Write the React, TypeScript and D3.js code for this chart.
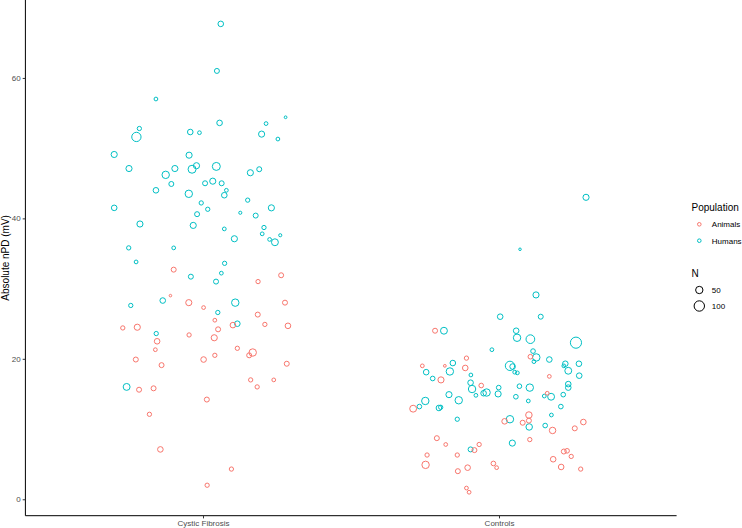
import React, { useEffect, useRef } from "react";
import * as d3 from "d3";

// [jitter offset (category units), absolute nPD (mV), N]
const categories = ["Cystic Fibrosis", "Controls"];
const populations = ["Animals", "Humans"];
const sizeBreaks = [50, 100];
const yTicks = [0, 20, 40, 60];

const cfHumans = [
  [0.06, 67.7, 29], [0.047, 61.0, 23], [-0.159, 57.0, 13], [0.279, 54.4, 7],
  [0.213, 53.5, 13], [0.056, 53.6, 29], [-0.215, 52.8, 17], [-0.043, 52.3, 29],
  [-0.012, 52.2, 13], [-0.225, 51.6, 80], [0.198, 52.0, 35], [0.253, 51.3, 13],
  [-0.3, 49.1, 35], [-0.047, 49.0, 35], [-0.25, 47.1, 35], [-0.126, 46.2, 51],
  [-0.095, 47.1, 35], [-0.037, 47.0, 59], [-0.022, 47.5, 35], [0.045, 47.4, 59],
  [0.16, 46.5, 35], [0.19, 47.0, 23], [-0.107, 44.9, 23], [0.007, 45.0, 23],
  [0.033, 45.3, 35], [0.063, 45.0, 23], [-0.159, 44.0, 29], [0.079, 44.0, 13],
  [0.072, 43.3, 29], [-0.048, 43.5, 51], [-0.006, 42.2, 17], [0.016, 41.3, 17],
  [0.151, 42.6, 17], [-0.3, 41.5, 29], [-0.02, 40.6, 23], [0.126, 40.8, 9],
  [0.178, 40.4, 23], [0.231, 41.5, 35], [-0.213, 39.2, 35], [-0.033, 39.0, 35],
  [0.072, 38.5, 13], [0.206, 38.7, 17], [0.2, 37.8, 13], [0.106, 37.1, 35],
  [0.225, 37.0, 13], [0.261, 37.6, 9], [0.243, 36.6, 44], [-0.251, 35.8, 17],
  [-0.099, 35.8, 13], [-0.226, 33.8, 13], [0.073, 33.6, 17], [0.062, 32.2, 13],
  [-0.041, 31.7, 23], [0.044, 31.0, 23], [-0.244, 27.6, 17], [-0.136, 28.3, 29],
  [0.109, 28.0, 51], [0.05, 26.6, 17], [0.116, 25.0, 29], [-0.158, 23.6, 17],
  [-0.258, 16.0, 44],
];

const cfAnimals = [
  [-0.099, 32.7, 23], [0.186, 31.0, 17], [0.264, 31.9, 23], [-0.11, 29.0, 6],
  [-0.048, 28.0, 35], [0.002, 27.3, 13], [0.277, 28.0, 23], [0.185, 26.3, 23],
  [0.04, 25.5, 13], [0.101, 24.8, 29], [0.209, 24.9, 17], [0.287, 24.7, 29],
  [-0.271, 24.4, 17], [-0.222, 24.5, 35], [0.051, 24.2, 23], [-0.155, 22.5, 29],
  [-0.047, 23.4, 17], [0.038, 23.0, 35], [-0.161, 21.3, 13], [0.116, 21.5, 17],
  [0.168, 20.9, 51], [0.156, 20.5, 23], [0.04, 20.5, 17], [-0.227, 19.9, 23],
  [0.002, 19.9, 29], [-0.14, 19.1, 23], [0.283, 19.3, 23], [-0.216, 15.6, 23],
  [-0.167, 15.8, 23], [0.161, 17.0, 17], [0.183, 16.0, 17], [0.239, 17.0, 13],
  [0.013, 14.2, 23], [-0.181, 12.1, 17], [-0.144, 7.1, 29], [0.096, 4.3, 17],
  [0.014, 2.0, 17],
];

const ctrlHumans = [
  [0.294, 43.0, 35], [0.071, 35.6, 6], [0.125, 29.1, 35], [0.004, 26.0, 29],
  [0.141, 26.0, 23], [-0.186, 24.0, 44], [0.058, 24.0, 29], [0.061, 23.0, 51],
  [0.106, 22.8, 70], [0.26, 22.3, 115], [-0.024, 21.3, 13], [-0.246, 18.1, 29],
  [-0.156, 19.4, 29], [-0.166, 18.2, 51], [-0.224, 17.2, 20], [-0.095, 17.7, 13],
  [-0.096, 16.6, 29], [-0.091, 15.7, 51], [-0.078, 14.8, 13], [-0.052, 15.1, 29],
  [-0.042, 15.2, 51], [-0.001, 15.9, 20], [-0.003, 15.0, 35], [-0.169, 14.9, 35],
  [-0.136, 14.1, 51], [-0.249, 14.0, 51], [-0.269, 13.2, 20], [-0.203, 13.0, 29],
  [-0.197, 13.1, 17], [-0.141, 11.4, 17], [0.115, 21.1, 20], [0.126, 20.2, 51],
  [0.118, 19.6, 13], [0.17, 19.9, 29], [0.037, 19.0, 80], [0.046, 18.9, 29],
  [0.053, 18.1, 13], [0.062, 18.0, 13], [0.224, 19.3, 29], [0.219, 19.0, 13],
  [0.234, 18.3, 44], [0.27, 19.3, 29], [0.271, 17.6, 29], [0.234, 16.4, 29],
  [0.234, 15.9, 29], [0.104, 15.9, 51], [0.069, 16.1, 20], [0.217, 14.9, 20],
  [0.153, 14.7, 13], [0.176, 14.6, 44], [0.057, 14.6, 20], [0.099, 14.0, 13],
  [0.209, 13.2, 20], [0.177, 12.0, 13], [0.037, 11.4, 51], [0.102, 10.3, 39],
  [0.156, 10.5, 20], [0.045, 8.0, 35], [-0.096, 7.1, 23],
];

const ctrlAnimals = [
  [-0.216, 24.0, 23], [-0.259, 19.0, 13], [-0.183, 19.0, 7], [-0.11, 20.1, 17],
  [-0.114, 18.7, 29], [-0.196, 17.0, 35], [-0.06, 16.2, 20], [-0.29, 12.9, 44],
  [0.106, 20.3, 20], [0.17, 17.5, 13], [0.163, 15.1, 13], [0.101, 12.0, 39],
  [0.019, 11.1, 29], [0.101, 11.2, 23], [0.08, 10.9, 23], [0.285, 11.0, 29],
  [0.256, 10.1, 23], [0.181, 9.8, 39], [0.104, 8.5, 17], [-0.21, 8.7, 23],
  [-0.18, 7.8, 13], [-0.243, 6.3, 17], [-0.248, 4.9, 51], [-0.141, 6.3, 17],
  [-0.083, 7.0, 23], [-0.067, 7.8, 17], [-0.106, 4.5, 29], [-0.139, 4.0, 23],
  [-0.019, 5.1, 20], [-0.008, 4.5, 13], [-0.11, 1.6, 13], [-0.101, 1.0, 13],
  [0.219, 6.8, 23], [0.23, 6.9, 20], [0.244, 6.1, 17], [0.183, 5.7, 29],
  [0.21, 4.6, 29], [0.276, 4.3, 17],
];

const groups = [
  { category: "Cystic Fibrosis", population: "Humans", points: cfHumans },
  { category: "Cystic Fibrosis", population: "Animals", points: cfAnimals },
  { category: "Controls", population: "Humans", points: ctrlHumans },
  { category: "Controls", population: "Animals", points: ctrlAnimals },
];

const App = () => {
  const svgRef = useRef(null);

  useEffect(() => {
    const width = 742;
    const height = 528;
    const panel = { left: 25.4, right: 676.6, top: 0, bottom: 515.7 };
    const font = "'Liberation Sans', Arial, Helvetica, sans-serif";

    const svg = d3.select(svgRef.current);
    svg.selectAll("*").remove();
    svg.attr("width", width).attr("height", height).style("font-family", font);

    const x = d3
      .scalePoint()
      .domain(categories)
      .range([panel.left, panel.right])
      .padding(0.6);
    const step = x.step();

    const y = d3
      .scaleLinear()
      .domain([-2.34, 71.1])
      .range([panel.bottom, panel.top]);

    const r = d3.scaleSqrt().domain([0, 100]).range([0, 5.2]);

    const color = d3
      .scaleOrdinal()
      .domain(populations)
      .range(["#F8766D", "#00BFC4"]);

    // points
    groups.forEach((g) => {
      svg
        .append("g")
        .selectAll("circle")
        .data(g.points)
        .join("circle")
        .attr("cx", (d) => x(g.category) + d[0] * step)
        .attr("cy", (d) => y(d[1]))
        .attr("r", (d) => r(d[2]))
        .attr("fill", "none")
        .attr("stroke", color(g.population))
        .attr("stroke-width", 1);
    });

    // axes
    const yAxis = svg
      .append("g")
      .attr("transform", `translate(${panel.left},0)`)
      .call(d3.axisLeft(y).tickValues(yTicks).tickSize(2.7).tickPadding(2));
    yAxis.select(".domain").attr("stroke", "#000").attr("d", `M0,${panel.top}V${panel.bottom}`);
    yAxis.selectAll(".tick line").attr("stroke", "#333");
    yAxis
      .selectAll(".tick text")
      .attr("fill", "#4d4d4d")
      .style("font-size", "8px")
      .style("font-family", font);

    const xAxis = svg
      .append("g")
      .attr("transform", `translate(0,${panel.bottom})`)
      .call(d3.axisBottom(x).tickSize(2.7).tickPadding(2));
    xAxis.select(".domain").attr("stroke", "#000").attr("d", `M${panel.left},0H${panel.right}`);
    xAxis.selectAll(".tick line").attr("stroke", "#333");
    xAxis
      .selectAll(".tick text")
      .attr("fill", "#4d4d4d")
      .style("font-size", "8px")
      .style("font-family", font);

    // y title
    svg
      .append("text")
      .attr("transform", `translate(8.5,${(panel.top + panel.bottom) / 2}) rotate(-90)`)
      .attr("text-anchor", "middle")
      .style("font-size", "10px")
      .text("Absolute nPD (mV)");

    // legend: population
    const lg = svg.append("g").attr("transform", "translate(691.5,0)");
    lg.append("text")
      .attr("x", 0)
      .attr("y", 210.5)
      .style("font-size", "10px")
      .text("Population");
    populations.forEach((p, i) => {
      const cy = 224.3 + i * 16.4;
      lg.append("circle")
        .attr("cx", 7.8)
        .attr("cy", cy)
        .attr("r", 1.8)
        .attr("fill", "none")
        .attr("stroke", color(p));
      lg.append("text")
        .attr("x", 20.3)
        .attr("y", cy + 2.9)
        .style("font-size", "8px")
        .text(p);
    });

    // legend: N
    lg.append("text")
      .attr("x", 0)
      .attr("y", 276.5)
      .style("font-size", "10px")
      .text("N");
    sizeBreaks.forEach((n, i) => {
      const cy = 290 + i * 16;
      lg.append("circle")
        .attr("cx", 7.8)
        .attr("cy", cy)
        .attr("r", r(n))
        .attr("fill", "none")
        .attr("stroke", "#000");
      lg.append("text")
        .attr("x", 20.3)
        .attr("y", cy + 2.9)
        .style("font-size", "8px")
        .text(n);
    });
  }, []);

  return (
    <div style={{ position: "absolute", left: 0, top: 0 }}>
      <svg ref={svgRef} />
    </div>
  );
};

export default App;
